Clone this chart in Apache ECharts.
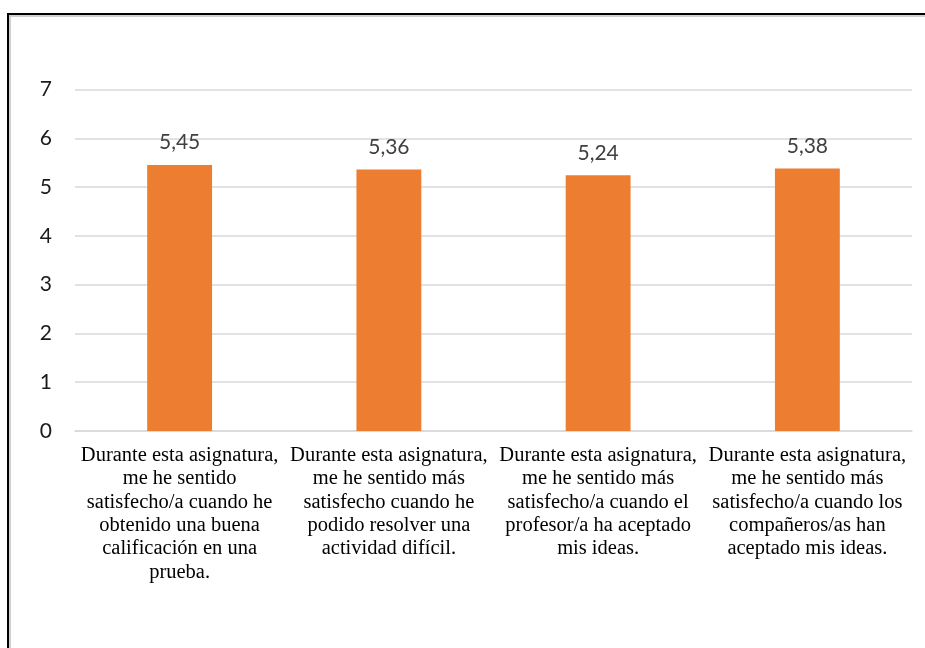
<!DOCTYPE html>
<html>
<head>
<meta charset="utf-8">
<script src="https://cdn.jsdelivr.net/npm/echarts@6/dist/echarts.min.js"></script>
<style>
  html, body { margin: 0; padding: 0; background: #fff; }
  #chart { position: absolute; left: 0; top: 0; width: 925px; height: 648px; }
  #frame {
    position: absolute; left: 7px; top: 13px; right: -20px; bottom: -20px;
    border-top: 2px solid #000; border-left: 2px solid #000;
    pointer-events: none;
  }
  #frame-inner {
    position: absolute; left: 0; top: 0; right: 0; bottom: 0;
    border-top: 2px solid #d0d0d0; border-left: 2px solid #d0d0d0;
  }
</style>
</head>
<body>
<div id="chart"></div>
<div id="frame"><div id="frame-inner"></div></div>
<script>
// Survey items (category labels, wrapped as printed)
const categories = [
  'Durante esta asignatura,\nme he sentido\nsatisfecho/a cuando he\nobtenido una buena\ncalificación en una\nprueba.',
  'Durante esta asignatura,\nme he sentido más\nsatisfecho cuando he\npodido resolver una\nactividad difícil.',
  'Durante esta asignatura,\nme he sentido más\nsatisfecho/a cuando el\nprofesor/a ha aceptado\nmis ideas.',
  'Durante esta asignatura,\nme he sentido más\nsatisfecho/a cuando los\ncompañeros/as han\naceptado mis ideas.'
];
// Mean scores
const values = [5.45, 5.36, 5.24, 5.38];
// Value axis range
const yMin = 0;
const yMax = 7;
const yStep = 1;

const chart = echarts.init(document.getElementById('chart'), null, { renderer: 'canvas' });
chart.setOption({
  animation: false,
  backgroundColor: 'transparent',
  grid: { left: 75, right: 13, top: 89.5, bottom: 217, containLabel: false },
  xAxis: {
    type: 'category',
    data: categories,
    axisLine: { show: true, lineStyle: { color: '#d9d9d9', width: 1.5 } },
    axisTick: { show: false },
    axisLabel: {
      interval: 0,
      margin: 13,
      color: '#000',
      fontFamily: '"Liberation Serif", "Times New Roman", serif',
      fontSize: 20.5,
      lineHeight: 23.3,
      align: 'center'
    }
  },
  yAxis: {
    type: 'value',
    min: yMin,
    max: yMax,
    interval: yStep,
    axisLine: { show: false },
    axisTick: { show: false },
    splitLine: { lineStyle: { color: '#d9d9d9', width: 1.5 } },
    axisLabel: {
      margin: 23,
      color: '#1a1a1a',
      fontFamily: 'Lato, "Open Sans", sans-serif',
      fontSize: 21
    }
  },
  series: [{
    type: 'bar',
    data: values,
    barWidth: '31%',
    itemStyle: { color: '#ED7D31' },
    label: {
      show: true,
      position: 'top',
      distance: 12,
      color: '#404040',
      fontFamily: 'Lato, "Open Sans", sans-serif',
      fontSize: 21,
      formatter: p => p.value.toFixed(2).replace('.', ',')
    }
  }]
});
</script>
</body>
</html>
